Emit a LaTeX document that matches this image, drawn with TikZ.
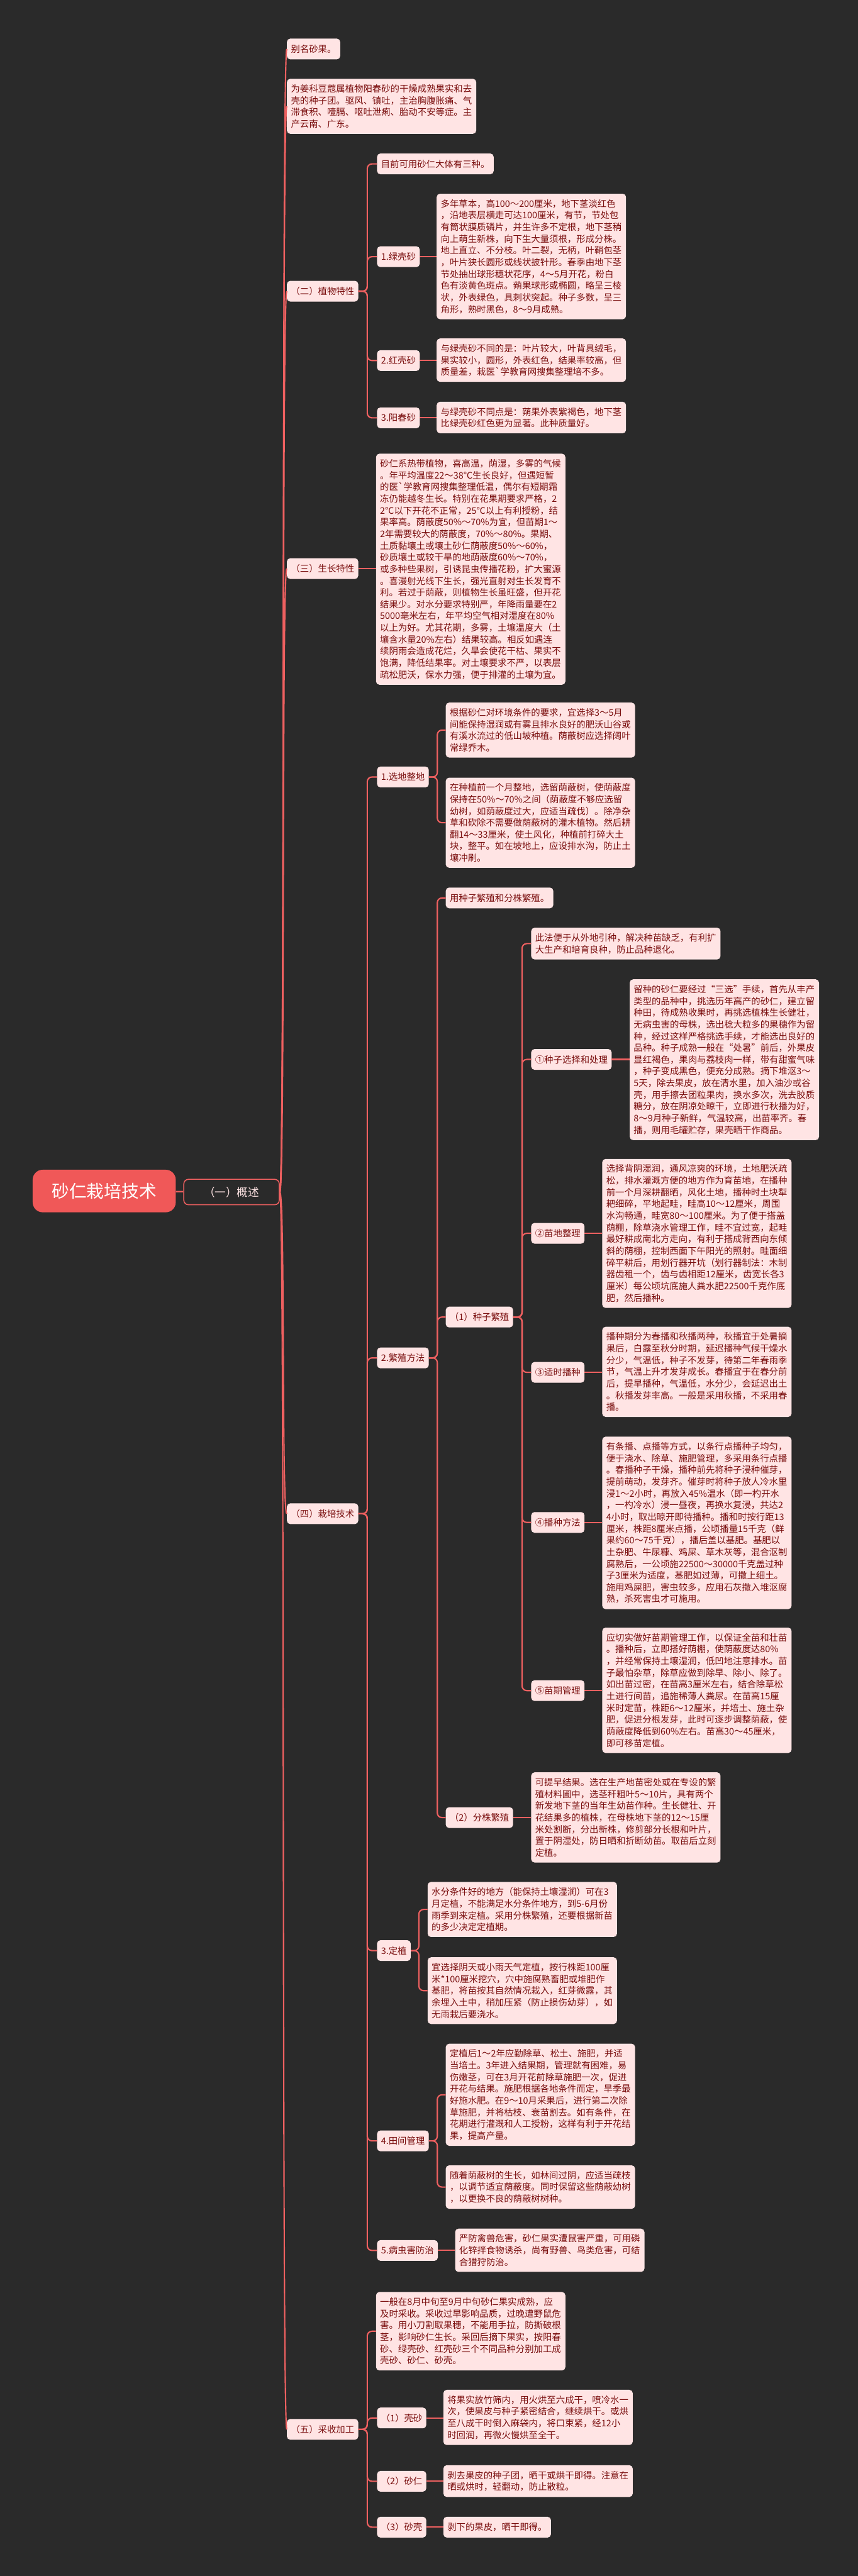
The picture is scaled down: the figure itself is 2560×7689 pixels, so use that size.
\documentclass[tikz,border=0pt]{standalone}
\usepackage{fontspec}
\newfontfamily\cjkfont{Noto Sans CJK SC}
\usetikzlibrary{positioning}
\definecolor{BgDark}{RGB}{42,42,42}
\definecolor{LinkRed}{RGB}{238,96,96}
\definecolor{NoteFill}{RGB}{255,228,228}
\definecolor{NoteText}{RGB}{122,14,14}
\definecolor{RootRed}{RGB}{240,88,88}
\tikzset{
  branch/.style={line width=4pt,draw=LinkRed,rounded corners=14pt},
  curvebranch/.style={line width=4pt,draw=LinkRed},
  rootbox/.style={fill=RootRed,rounded corners=30pt,text=white,
    minimum width=427pt,minimum height=127pt,font=\cjkfont\fontsize{52}{60}\selectfont},
  topicbox/.style={fill=BgDark,draw=LinkRed,line width=3pt,rounded corners=14pt,text=NoteFill,
    minimum width=285pt,minimum height=76pt,font=\cjkfont\fontsize{33}{40}\selectfont},
  labelbox/.style={anchor=north west,fill=NoteFill,rounded corners=10pt,text=NoteText,
    inner xsep=12pt,inner ysep=17pt,minimum height=62pt,
    font=\cjkfont\fontsize{27}{35}\selectfont},
  notebox/.style={anchor=north west,fill=NoteFill,rounded corners=10pt,text=NoteText,
    inner xsep=12pt,inner ysep=17pt,text width=541pt,align=left,
    font=\cjkfont\fontsize{27}{35}\selectfont}
}
\begin{document}
\begin{tikzpicture}[x=1pt,y=-1pt]
  \useasboundingbox (0,0) rectangle (2560,7689);
  \fill[BgDark] (0,0) rectangle (2560,7689);

  % trunks
  \coordinate (tA) at (1096,0);
  \coordinate (tB) at (1305,0);
  \coordinate (tC) at (1558,0);
  \coordinate (tD) at (1250,0);

  % root and overview
  \node[rootbox] (root) at (311,3555) {砂仁栽培技术};
  \node[topicbox] (gaishu) at (691,3558) {（一）概述};

  % first level
  \node[labelbox] (bieming) at (856,115) {别名砂果。};
  \node[notebox] (jianjie) at (856,235) {为姜科豆蔻属植物阳春砂的干燥成熟果实和去\\壳的种子团。驱风、镇吐，主治胸腹胀痛、气\\滞食积、噎膈、呕吐泄痢、胎动不安等症。主\\产云南、广东。};
  \node[labelbox] (texing) at (856,838) {（二）植物特性};
  \node[labelbox] (shengzhang) at (856,1666) {（三）生长特性};
  \node[labelbox] (zaipei) at (856,4487) {（四）栽培技术};
  \node[labelbox] (caishou) at (856,7220) {（五）采收加工};

  % plant features
  \node[labelbox] (sanzhong) at (1125,458) {目前可用砂仁大体有三种。};
  \node[labelbox] (lvke) at (1125,735) {1.绿壳砂};
  \node[labelbox] (hongke) at (1125,1045) {2.红壳砂};
  \node[labelbox] (yangchun) at (1125,1216) {3.阳春砂};
  \node[notebox] (lvkeT) at (1303,578) {多年草本，高100～200厘米，地下茎淡红色\\，沿地表层横走可达100厘米，有节，节处包\\有筒状膜质磷片，并生许多不定根，地下茎稍\\向上萌生新株，向下生大量须根，形成分株。\\地上直立、不分枝。叶二裂，无柄，叶鞘包茎\\，叶片狭长圆形或线状披针形。春季由地下茎\\节处抽出球形穗状花序，4～5月开花，粉白\\色有淡黄色斑点。蒴果球形或椭圆，略呈三棱\\状，外表绿色，具刺状突起。种子多数，呈三\\角形，熟时黑色，8～9月成熟。};
  \node[notebox] (hongkeT) at (1303,1010) {与绿壳砂不同的是：叶片较大，叶背具绒毛，\\果实较小，圆形，外表红色，结果率较高，但\\质量差，栽医`学教育网搜集整理培不多。};
  \node[notebox] (yangchunT) at (1303,1199) {与绿壳砂不同点是：蒴果外表紫褐色，地下茎\\比绿壳砂红色更为显著。此种质量好。};

  % growth features
  \node[notebox] (shengzhangT) at (1122,1354) {砂仁系热带植物，喜高温，荫湿，多雾的气候\\。年平均温度22～38℃生长良好，但遇短暂\\的医`学教育网搜集整理低温，偶尔有短期霜\\冻仍能越冬生长。特别在花果期要求严格，2\\2℃以下开花不正常，25℃以上有利授粉，结\\果率高。荫蔽度50\%～70\%为宜，但苗期1～\\2年需要较大的荫蔽度，70\%～80\%。果期、\\土质黏壤土或壤土砂仁荫蔽度50\%～60\%，\\砂质壤土或较干旱的地荫蔽度60\%～70\%，\\或多种些果树，引诱昆虫传播花粉，扩大蜜源\\。喜漫射光线下生长，强光直射对生长发育不\\利。若过于荫蔽，则植物生长虽旺盛，但开花\\结果少。对水分要求特别严，年降雨量要在2\\5000毫米左右，年平均空气相对湿度在80\%\\以上为好。尤其花期，多雾，土壤温度大（土\\壤含水量20\%左右）结果较高。相反如遇连\\续阴雨会造成花烂，久旱会使花干枯、果实不\\饱满，降低结果率。对土壤要求不严，以表层\\疏松肥沃，保水力强，便于排灌的土壤为宜。};

  % cultivation
  \node[labelbox] (xuandi) at (1125,2288) {1.选地整地};
  \node[labelbox] (fanzhi) at (1125,4022) {2.繁殖方法};
  \node[labelbox] (dingzhi) at (1125,5791) {3.定植};
  \node[labelbox] (tianjian) at (1125,6359) {4.田间管理};
  \node[labelbox] (bingchong) at (1125,6686) {5.病虫害防治};

  \node[notebox] (xuandiA) at (1330,2097) {根据砂仁对环境条件的要求，宜选择3～5月\\间能保持湿润或有雾且排水良好的肥沃山谷或\\有溪水流过的低山坡种植。荫蔽树应选择阔叶\\常绿乔木。};
  \node[notebox] (xuandiB) at (1330,2321) {在种植前一个月整地，选留荫蔽树，使荫蔽度\\保持在50\%～70\%之间（荫蔽度不够应选留\\幼树，如荫蔽度过大，应适当疏伐）。除净杂\\草和砍除不需要做荫蔽树的灌木植物。然后耕\\翻14～33厘米，使土风化，种植前打碎大土\\块，整平。如在坡地上，应设排水沟，防止土\\壤冲刷。};

  \node[labelbox] (fanzhiA) at (1330,2649) {用种子繁殖和分株繁殖。};
  \node[labelbox] (zhongzi) at (1330,3900) {（1）种子繁殖};
  \node[labelbox] (fenzhu) at (1330,5394) {（2）分株繁殖};

  \node[notebox] (zhongziA) at (1585,2769) {此法便于从外地引种，解决种苗缺乏，有利扩\\大生产和培育良种，防止品种退化。};
  \node[labelbox] (xuanze) at (1585,3131) {①种子选择和处理};
  \node[labelbox] (miaodi) at (1585,3650) {②苗地整理};
  \node[labelbox] (shishi) at (1585,4065) {③适时播种};
  \node[labelbox] (bozhong) at (1585,4513) {④播种方法};
  \node[labelbox] (miaoqi) at (1585,5015) {⑤苗期管理};

  \node[notebox] (xuanzeT) at (1879,2923) {留种的砂仁要经过“三选”手续，首先从丰产\\类型的品种中，挑选历年高产的砂仁，建立留\\种田，待成熟收果时，再挑选植株生长健壮，\\无病虫害的母株，选出稔大粒多的果穗作为留\\种，经过这样严格挑选手续，才能选出良好的\\品种。种子成熟一般在“处暑”前后，外果皮\\显红褐色，果肉与荔枝肉一样，带有甜蜜气味\\，种子变成黑色，便充分成熟。摘下堆沤3～\\5天，除去果皮，放在清水里，加入油沙或谷\\壳，用手擦去团粒果肉，换水多次，洗去胶质\\糖分，放在阴凉处晾干，立即进行秋播为好，\\8～9月种子新鲜，气温较高，出苗率齐。春\\播，则用毛罐贮存，果壳晒干作商品。};
  \node[notebox] (miaodiT) at (1797,3459) {选择背阴湿润，通风凉爽的环境，土地肥沃疏\\松，排水灌溉方便的地方作为育苗地，在播种\\前一个月深耕翻晒，风化土地，播种时土块犁\\耙细碎，平地起畦，畦高10～12厘米，周围\\水沟畅通，畦宽80～100厘米。为了便于搭盖\\荫棚，除草浇水管理工作，畦不宜过宽，起畦\\最好耕成南北方走向，有利于搭成背西向东倾\\斜的荫棚，控制西面下午阳光的照射。畦面细\\碎平耕后，用划行器开坑（划行器制法：木制\\器齿租一个，齿与齿相距12厘米，齿宽长各3\\厘米）每公顷坑底施人粪水肥22500千克作底\\肥，然后播种。};
  \node[notebox] (shishiT) at (1797,3960) {播种期分为春播和秋播两种，秋播宜于处暑摘\\果后，白露至秋分时期，延迟播种气候干燥水\\分少，气温低，种子不发芽，待第二年春雨季\\节，气温上升才发芽成长。春播宜于在春分前\\后，提早播种，气温低，水分少，会延迟出土\\。秋播发芽率高。一般是采用秋播，不采用春\\播。};
  \node[notebox] (bozhongT) at (1797,4288) {有条播、点播等方式，以条行点播种子均匀，\\便于浇水、除草、施肥管理，多采用条行点播\\。春播种子干燥，播种前先将种子浸种催芽，\\提前萌动，发芽齐。催芽时将种子放人冷水里\\浸1～2小时，再放入45\%温水（即一杓开水\\，一杓冷水）浸一昼夜，再换水复浸，共达2\\4小时，取出晾开即待播种。播和时按行距13\\厘米，株距8厘米点播，公顷播量15千克（鲜\\果约60～75千克），播后盖以基肥。基肥以\\土杂肥、牛尿糠、鸡屎、草木灰等，混合沤制\\腐熟后，一公顷施22500～30000千克盖过种\\子3厘米为适度，基肥如过薄，可撒上细土。\\施用鸡屎肥，害虫较多，应用石灰撒入堆沤腐\\熟，杀死害虫才可施用。};
  \node[notebox] (miaoqiT) at (1797,4858) {应切实做好苗期管理工作，以保证全苗和壮苗\\。播种后，立即搭好荫棚，使荫蔽度达80\%\\，并经常保持土壤湿润，低凹地注意排水。苗\\子最怕杂草，除草应做到除早、除小、除了。\\如出苗过密，在苗高3厘米左右，结合除草松\\土进行间苗，追施稀薄人粪尿。在苗高15厘\\米时定苗，株距6～12厘米，并培土、施土杂\\肥，促进分根发芽，此时可逐步调整荫蔽，使\\荫蔽度降低到60\%左右。苗高30～45厘米，\\即可移苗定植。};
  \node[notebox] (fenzhuT) at (1585,5290) {可提早结果。选在生产地苗密处或在专设的繁\\殖材料圃中，选茎秆粗叶5～10片，具有两个\\新发地下茎的当年生幼苗作种。生长健壮、开\\花结果多的植株，在母株地下茎的12～15厘\\米处割断，分出新株，修剪部分长根和叶片，\\置于阴湿处，防日晒和折断幼苗。取苗后立刻\\定植。};

  \node[notebox] (dingzhiA) at (1276,5617) {水分条件好的地方（能保持土壤湿润）可在3\\月定植，不能满足水分条件地方，到5-6月份\\雨季到来定植。采用分株繁殖，还要根据新苗\\的多少决定定植期。};
  \node[notebox] (dingzhiB) at (1276,5842) {宜选择阴天或小雨天气定植，按行株距100厘\\米*100厘米挖穴，穴中施腐熟畜肥或堆肥作\\基肥，将苗按其自然情况栽入，红芽微露，其\\余埋入土中，稍加压紧（防止损伤幼芽），如\\无雨栽后要浇水。};
  \node[notebox] (tianjianA) at (1330,6100) {定植后1～2年应勤除草、松土、施肥，并适\\当培土。3年进入结果期，管理就有困难，易\\伤嫩茎，可在3月开花前除草施肥一次，促进\\开花与结果。施肥根据各地条件而定，旱季最\\好施水肥。在9～10月采果后，进行第二次除\\草施肥，并将枯枝、衰苗割去。如有条件，在\\花期进行灌溉和人工授粉，这样有利于开花结\\果，提高产量。};
  \node[notebox] (tianjianB) at (1330,6463) {随着荫蔽树的生长，如林间过阴，应适当疏枝\\，以调节适宜荫蔽度。同时保留这些荫蔽幼树\\，以更换不良的荫蔽树树种。};
  \node[notebox] (bingchongT) at (1358,6652) {严防禽兽危害，砂仁果实遭鼠害严重，可用磷\\化锌拌食物诱杀，尚有野兽、鸟类危害，可结\\合猎狩防治。};

  % harvest
  \node[notebox] (caishouA) at (1122,6841) {一般在8月中旬至9月中旬砂仁果实成熟，应\\及时采收。采收过早影响品质，过晚遭野鼠危\\害。用小刀割取果穗，不能用手拉，防撕破根\\茎，影响砂仁生长。采回后摘下果实，按阳春\\砂、绿壳砂、红壳砂三个不同品种分别加工成\\壳砂、砂仁、砂壳。};
  \node[labelbox] (kesha) at (1125,7186) {（1）壳砂};
  \node[labelbox] (sharen) at (1125,7375) {（2）砂仁};
  \node[labelbox] (shake) at (1125,7512) {（3）砂壳};
  \node[notebox] (keshaT) at (1323,7133) {将果实放竹筛内，用火烘至六成干，喷冷水一\\次，使果皮与种子紧密结合，继续烘干。或烘\\至八成干时倒入麻袋内，将口束紧，经12小\\时回润，再微火慢烘至全干。};
  \node[notebox] (sharenT) at (1323,7358) {剥去果皮的种子团，晒干或烘干即得。注意在\\晒或烘时，轻翻动，防止散粒。};
  \node[labelbox] (shakeT) at (1323,7512) {剥下的果皮，晒干即得。};

  % connectors
  \draw[branch] (root) -- (gaishu);
  \foreach \c in {bieming,jianjie,texing,shengzhang,zaipei,caishou}
    \draw[curvebranch] (gaishu.east) .. controls +(16,0) and +(-16,0) .. (\c.west);
  \foreach \c in {sanzhong,lvke,hongke,yangchun}
    \draw[branch] (texing.east) -- (tA |- texing.east) |- (\c.west);
  \foreach \c in {xuandi,fanzhi,dingzhi,tianjian,bingchong}
    \draw[branch] (zaipei.east) -- (tA |- zaipei.east) |- (\c.west);
  \foreach \c in {caishouA,kesha,sharen,shake}
    \draw[branch] (caishou.east) -- (tA |- caishou.east) |- (\c.west);
  \foreach \c in {xuandiA,xuandiB}
    \draw[branch] (xuandi.east) -- (tB |- xuandi.east) |- (\c.west);
  \foreach \c in {fanzhiA,zhongzi,fenzhu}
    \draw[branch] (fanzhi.east) -- (tB |- fanzhi.east) |- (\c.west);
  \foreach \c in {tianjianA,tianjianB}
    \draw[branch] (tianjian.east) -- (tB |- tianjian.east) |- (\c.west);
  \foreach \c in {zhongziA,xuanze,miaodi,shishi,bozhong,miaoqi}
    \draw[branch] (zhongzi.east) -- (tC |- zhongzi.east) |- (\c.west);
  \foreach \c in {dingzhiA,dingzhiB}
    \draw[branch] (dingzhi.east) -- (tD |- dingzhi.east) |- (\c.west);
  \foreach \a/\b in {lvke/lvkeT,hongke/hongkeT,yangchun/yangchunT,shengzhang/shengzhangT,
      xuanze/xuanzeT,miaodi/miaodiT,shishi/shishiT,bozhong/bozhongT,miaoqi/miaoqiT,
      fenzhu/fenzhuT,bingchong/bingchongT,kesha/keshaT,sharen/sharenT,shake/shakeT}
    \draw[branch] (\a.east) -- (\a.east -| \b.west);
\end{tikzpicture}
\end{document}
